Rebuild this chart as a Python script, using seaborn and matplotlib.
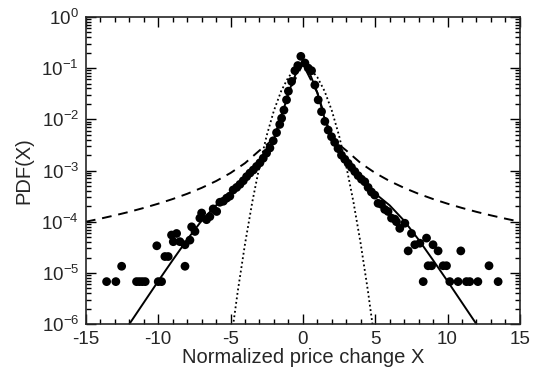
import numpy as np
import pandas as pd
import matplotlib
matplotlib.use("Agg")
import matplotlib.pyplot as plt
import seaborn as sns
from matplotlib.ticker import MultipleLocator, LogLocator, NullFormatter

# dados (x normalizado, log10 da PDF)
x_pontos = [-13.57, -12.93, -12.53, -11.5, -11.3, -11.1, -10.9, -10.1, -10.0, -9.77,
            -9.54, -9.31, -9.08, -8.96, -8.73, -8.5, -8.15, -8.15, -7.81, -7.69,
            -7.46, -7.12, -7.0, -6.66, -6.43, -6.2, -5.96, -5.74, -5.5, -5.27,
            -5.05, -4.82, -4.58, -4.35, -4.12, -3.89, -3.66, -3.43, -3.2, -2.97,
            -2.74, -2.51, -2.28, -2.05, -1.82, -1.6, -1.47, -1.31, -1.13, -1.0,
            -0.78, -0.55, -0.35, -0.14,
            0.14, 0.37, 0.6, 0.83, 1.06, 1.29, 1.52, 1.75, 1.98, 2.2,
            2.43, 2.67, 2.9, 3.13, 3.36, 3.59, 3.82, 4.05, 4.28, 4.51,
            4.74, 4.97, 5.2, 5.43, 5.66, 5.89, 6.13, 6.36, 6.47, 6.7,
            7.05, 7.28, 7.51, 7.74, 8.09, 8.32, 8.55, 8.66, 8.9, 9.0,
            9.35, 9.7, 9.93, 10.16, 10.73, 10.92, 11.31, 11.54, 12.1, 12.87, 13.5]
log_pdf = [-5.17, -5.17, -4.87, -5.17, -5.17, -5.17, -5.17, -4.47, -5.17, -5.17,
           -4.68, -4.68, -4.26, -4.39, -4.23, -4.39, -4.45, -4.87, -4.36, -4.10,
           -4.19, -3.93, -3.83, -3.96, -3.90, -3.75, -3.80, -3.62, -3.60, -3.54,
           -3.50, -3.38, -3.33, -3.27, -3.20, -3.12, -3.05, -2.99, -2.92, -2.85,
           -2.76, -2.66, -2.56, -2.42, -2.26, -2.10, -1.98, -1.82, -1.62, -1.45,
           -1.26, -1.05, -0.95, -0.77,
           -0.90, -1.00, -1.05, -1.33, -1.62, -1.85, -2.04, -2.21, -2.34, -2.45,
           -2.57, -2.70, -2.78, -2.86, -2.94, -3.02, -3.10, -3.17, -3.22, -3.33,
           -3.42, -3.48, -3.64, -3.66, -3.76, -3.80, -3.93, -3.95, -4.00, -4.13,
           -4.03, -4.57, -4.23, -4.45, -4.42, -5.17, -4.32, -4.86, -4.86, -4.45,
           -4.57, -4.86, -4.86, -5.17, -5.17, -4.57, -5.17, -5.17, -5.17, -4.86, -5.17]

# curva solida (ajuste)
x_solida = [-12, -11, -10, -9, -8, -7, -6, -5, -4, -3, -2.5, -2, -1.5, -1, -0.5, 0,
            0.5, 1, 1.5, 2, 2.5, 3, 4, 5, 6, 7, 8, 9, 10, 11, 12]
log_solida = [-6.0, -5.58, -5.16, -4.75, -4.35, -3.98, -3.68, -3.45, -3.17, -2.87, -2.67,
              -2.38, -1.98, -1.48, -1.12, -0.92,
              -1.12, -1.48, -1.98, -2.38, -2.67, -2.87, -3.17, -3.45, -3.68, -3.98,
              -4.35, -4.75, -5.16, -5.58, -6.0]

# curva tracejada (Levy / Lorentz)
x_tracejada = [-15, -14, -13, -12, -11, -10, -9, -8, -7, -6, -5, -4, -3, -2, -1, 0,
               1, 2, 3, 4, 5, 6, 7, 8, 9, 10, 11, 12, 13, 14, 15]
log_tracejada = [-4.0, -3.94, -3.876, -3.807, -3.731, -3.648, -3.557, -3.455, -3.339,
                 -3.206, -3.048, -2.856, -2.609, -2.38, -1.48, -0.92,
                 -1.48, -2.38, -2.609, -2.856, -3.048, -3.206, -3.339, -3.455, -3.557,
                 -3.648, -3.731, -3.807, -3.876, -3.94, -4.0]

# curva pontilhada (Gaussiana)
x_pontilhada = [-5.0, -4.5, -4.0, -3.5, -3.0, -2.5, -2.0, -1.5, -1.0, -0.5, 0.0,
                0.5, 1.0, 1.5, 2.0, 2.5, 3.0, 3.5, 4.0, 4.5, 5.0]
log_pontilhada = [-6.388, -5.356, -4.434, -3.619, -2.914, -2.317, -1.828, -1.448, -1.177,
                  -1.014, -0.96, -1.014, -1.177, -1.448, -1.828, -2.317, -2.914, -3.619,
                  -4.434, -5.356, -6.388]

sns.set_style("ticks")
plt.rcParams['font.family'] = ['Liberation Sans', 'DejaVu Sans']
plt.rcParams['mathtext.default'] = 'regular'
plt.rcParams['axes.unicode_minus'] = False

df_pontos = pd.DataFrame({'x': x_pontos, 'pdf': np.power(10.0, log_pdf)})
df_sol = pd.DataFrame({'x': x_solida, 'pdf': np.power(10.0, log_solida)})
df_tra = pd.DataFrame({'x': x_tracejada, 'pdf': np.power(10.0, log_tracejada)})
df_pon = pd.DataFrame({'x': x_pontilhada, 'pdf': np.power(10.0, log_pontilhada)})

fig = plt.figure(figsize=(5.37, 3.76), dpi=100)
ax = fig.add_axes([0.160, 0.138, 0.808, 0.817])

sns.lineplot(data=df_pon, x='x', y='pdf', ax=ax, color='black', lw=1.3,
             linestyle=(0, (1, 1.5)), sort=False, estimator=None)
sns.lineplot(data=df_tra, x='x', y='pdf', ax=ax, color='black', lw=1.4,
             linestyle=(0, (5, 3.5)), sort=False, estimator=None)
sns.lineplot(data=df_sol, x='x', y='pdf', ax=ax, color='black', lw=1.4,
             sort=False, estimator=None)
sns.scatterplot(data=df_pontos, x='x', y='pdf', ax=ax, color='black', s=40,
                edgecolor='none', zorder=5)

ax.set_yscale('log')
ax.set_xlim(-15, 15)
ax.set_ylim(1e-6, 1)
ax.xaxis.set_major_locator(MultipleLocator(5))
ax.xaxis.set_minor_locator(MultipleLocator(1))
ax.yaxis.set_major_locator(LogLocator(base=10, numticks=10))
ax.yaxis.set_minor_locator(LogLocator(base=10, subs=np.arange(2, 10), numticks=20))
ax.yaxis.set_minor_formatter(NullFormatter())
ax.tick_params(which='both', direction='in', top=True, right=True, labelsize=13.5,
               width=1.0, color='black')
ax.tick_params(which='major', length=7, pad=5)
ax.tick_params(which='minor', length=3.5)
for sp in ax.spines.values():
    sp.set_linewidth(1.2)

ax.set_xlabel('Normalized price change X', fontsize=14.5, labelpad=0)
ax.set_ylabel('PDF(X)', fontsize=14.5, labelpad=6)

fig.savefig('out.png', dpi=100)
